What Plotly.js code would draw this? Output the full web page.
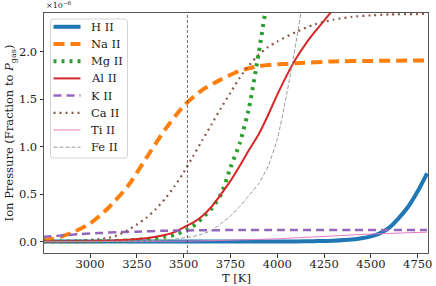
<!DOCTYPE html>
<html><head><meta charset="utf-8">
<script src="https://cdn.plot.ly/plotly-3.0.1.min.js"></script>
<style>html,body{margin:0;padding:0;background:#fff}</style>
</head><body><div id="chart" style="width:436px;height:286px"></div>
<script>
// Values in units of 1e-6 (fraction of P_gas)
const seriesNames = ["H II","Na II","Mg II","Al II","K II","Ca II","Ti II","Fe II"];

const tH  = [2750,3000,3500,4000,4100,4200,4300,4400,4450,4500,4550,4600,4650,4700,4750,4800];
const vH  = [0,0,0,0.001,0.002,0.005,0.01,0.022,0.035,0.055,0.09,0.15,0.25,0.37,0.53,0.72];

const tNa = [2750,2800,2900,3000,3050,3100,3200,3300,3400,3500,3600,3700,3800,3900,4000,4100,4300,4500,4800];
const vNa = [0.02,0.03,0.09,0.19,0.27,0.36,0.58,0.88,1.18,1.43,1.60,1.71,1.80,1.85,1.87,1.88,1.90,1.905,1.91];

const tMg = [2750,3000,3100,3200,3300,3400,3450,3500,3550,3600,3650,3700,3750,3800,3850,3900,3950,4000];
const vMg = [0.0005,0.003,0.006,0.012,0.025,0.05,0.07,0.11,0.16,0.25,0.35,0.5,0.78,1.04,1.42,1.98,2.6,3.2];

const tAl = [2750,3000,3100,3200,3300,3400,3450,3500,3550,3600,3650,3700,3750,3800,3850,3900,3950,4000,4050,4100,4150,4200,4250,4300,4400];
const vAl = [0.001,0.005,0.01,0.02,0.035,0.07,0.1,0.15,0.2,0.27,0.37,0.5,0.64,0.8,0.97,1.13,1.33,1.55,1.75,1.93,2.08,2.21,2.33,2.45,2.68];

const tK  = [2750,2850,2950,3050,3150,3250,3400,3600,3800,4000,4400,4800];
const vK  = [0.05,0.065,0.08,0.09,0.1,0.105,0.115,0.12,0.122,0.123,0.123,0.123];

const tCa = [2750,2850,2950,3000,3050,3100,3150,3200,3250,3300,3350,3400,3450,3500,3550,3600,3650,3700,3750,3800,3850,3900,3950,4000,4100,4200,4300,4400,4500,4600,4800];
const vCa = [0.003,0.006,0.012,0.017,0.027,0.04,0.07,0.12,0.18,0.25,0.34,0.45,0.58,0.73,0.9,1.07,1.24,1.41,1.57,1.73,1.86,1.97,2.05,2.11,2.21,2.29,2.34,2.37,2.385,2.395,2.40];

const tTi = [2750,3000,3500,3750,4000,4250,4500,4650,4800];
const vTi = [0.0,0.001,0.005,0.015,0.03,0.055,0.08,0.09,0.1];

const tFe = [2750,3000,3200,3300,3400,3450,3500,3550,3600,3650,3700,3750,3800,3850,3900,3950,4000,4050,4100,4150];
const vFe = [0.0,0.002,0.006,0.01,0.018,0.025,0.04,0.055,0.08,0.12,0.19,0.27,0.37,0.49,0.61,0.79,1.08,1.55,2.1,2.7];

const vlineT = 3520;
const xTicks = [3000,3250,3500,3750,4000,4250,4500,4750];
const yTicks = [0,0.5,1.0,1.5,2.0];

const xs = [tH,tNa,tMg,tAl,tK,tCa,tTi,tFe];
const ys = [vH,vNa,vMg,vAl,vK,vCa,vTi,vFe];
const styles = [
  {color:'#1f77b4', width:4, dash:'solid'},
  {color:'#ff7f0e', width:4, dash:'11px,6px'},
  {color:'#2ca02c', width:4, dash:'3px,5px'},
  {color:'#d62728', width:2, dash:'solid'},
  {color:'#9467bd', width:2.5, dash:'8px,5px'},
  {color:'#8c564b', width:2.2, dash:'2px,4px'},
  {color:'#e377c2', width:1, dash:'solid'},
  {color:'#9a9a9a', width:1, dash:'4px,2px'}
];
const traces = seriesNames.map((n,i)=>({
  x: xs[i], y: ys[i], name: n, type:'scatter', mode:'lines',
  line: Object.assign({shape:'spline', smoothing:0.6}, styles[i])
}));

// Plot area geometry (px) used for the legend box
const W = 436, H = 286, M = {l:44, r:8, t:13, b:33};
const pw = W - M.l - M.r, ph = H - M.t - M.b;
const px = x => (x - M.l) / pw;
const py = y => 1 - (y - M.t) / ph;

const serif = 'DejaVu Serif, serif';
const shapes = [{type:'line', xref:'x', yref:'paper', x0:vlineT, x1:vlineT, y0:0, y1:1,
           line:{color:'#444', width:0.8, dash:'3px,2px'}}];
const annotations = [
  {xref:'paper', yref:'paper', x:0, y:1, xanchor:'left', yanchor:'bottom', yshift:1, showarrow:false,
   text:'×10<sup>−6</sup>', font:{family:serif, size:8, color:'#222'}},
  {xref:'paper', yref:'paper', x:0.5, y:0, xanchor:'center', yanchor:'middle', yshift:-24.5, showarrow:false,
   text:'T [K]', font:{family:serif, size:11.5, color:'#222'}}
];

// legend box (rounded)
(function(){
  const x0=50.5, x1=127.5, y0=19, y1=158, r=3;
  const rx = r/pw, ry = r/ph;
  const L=px(x0), R=px(x1), T=py(y0), B=py(y1);
  const path = `M ${L+rx} ${T} L ${R-rx} ${T} Q ${R} ${T} ${R} ${T-ry} L ${R} ${B+ry} Q ${R} ${B} ${R-rx} ${B} L ${L+rx} ${B} Q ${L} ${B} ${L} ${B+ry} L ${L} ${T-ry} Q ${L} ${T} ${L+rx} ${T} Z`;
  shapes.push({type:'path', xref:'paper', yref:'paper', path:path, fillcolor:'rgba(255,255,255,0.85)',
               line:{color:'#d3d3d3', width:1}, layer:'above'});
  seriesNames.forEach((n,i)=>{
    const yc = 26.8 + i*17.2;
    const s = styles[i];
    shapes.push({type:'line', xref:'paper', yref:'paper', x0:px(53.5), x1:px(80.5), y0:py(yc), y1:py(yc),
                 line:{color:s.color, width:s.width, dash:s.dash}, layer:'above'});
    annotations.push({xref:'paper', yref:'paper', x:px(88.5), y:py(yc), xanchor:'left', yanchor:'middle',
                 showarrow:false, text:n, font:{family:serif, size:11.5, color:'#222'}});
  });
})();

const layout = {
  width:W, height:H,
  margin:M,
  paper_bgcolor:'#fff', plot_bgcolor:'#fff',
  font:{family:serif, size:11.5, color:'#222'},
  showlegend:false,
  xaxis:{range:[2754,4805], tickvals:xTicks, ticktext:xTicks.map(String), showgrid:false, zeroline:false,
         showline:true, linecolor:'#555', linewidth:1, mirror:true, ticks:'outside', ticklen:3.5, tickcolor:'#333',
         ticklabelstandoff:-3, tickfont:{family:serif, size:11.5}},
  yaxis:{range:[-0.12, 2.41], tickvals:yTicks, ticktext:['0.0','0.5','1.0','1.5','2.0'], showgrid:false, zeroline:false,
         showline:true, linecolor:'#555', linewidth:1, mirror:true, ticks:'outside', ticklen:3.5, tickcolor:'#333',
         title:{text:'Ion Pressure (Fraction to <i>P</i><sub>gas</sub>)', font:{family:serif, size:11.5}, standoff:2},
         tickfont:{family:serif, size:11.5}},
  shapes:shapes,
  annotations:annotations
};
Plotly.newPlot('chart', traces, layout, {staticPlot:true, displayModeBar:false});
</script></body></html>
